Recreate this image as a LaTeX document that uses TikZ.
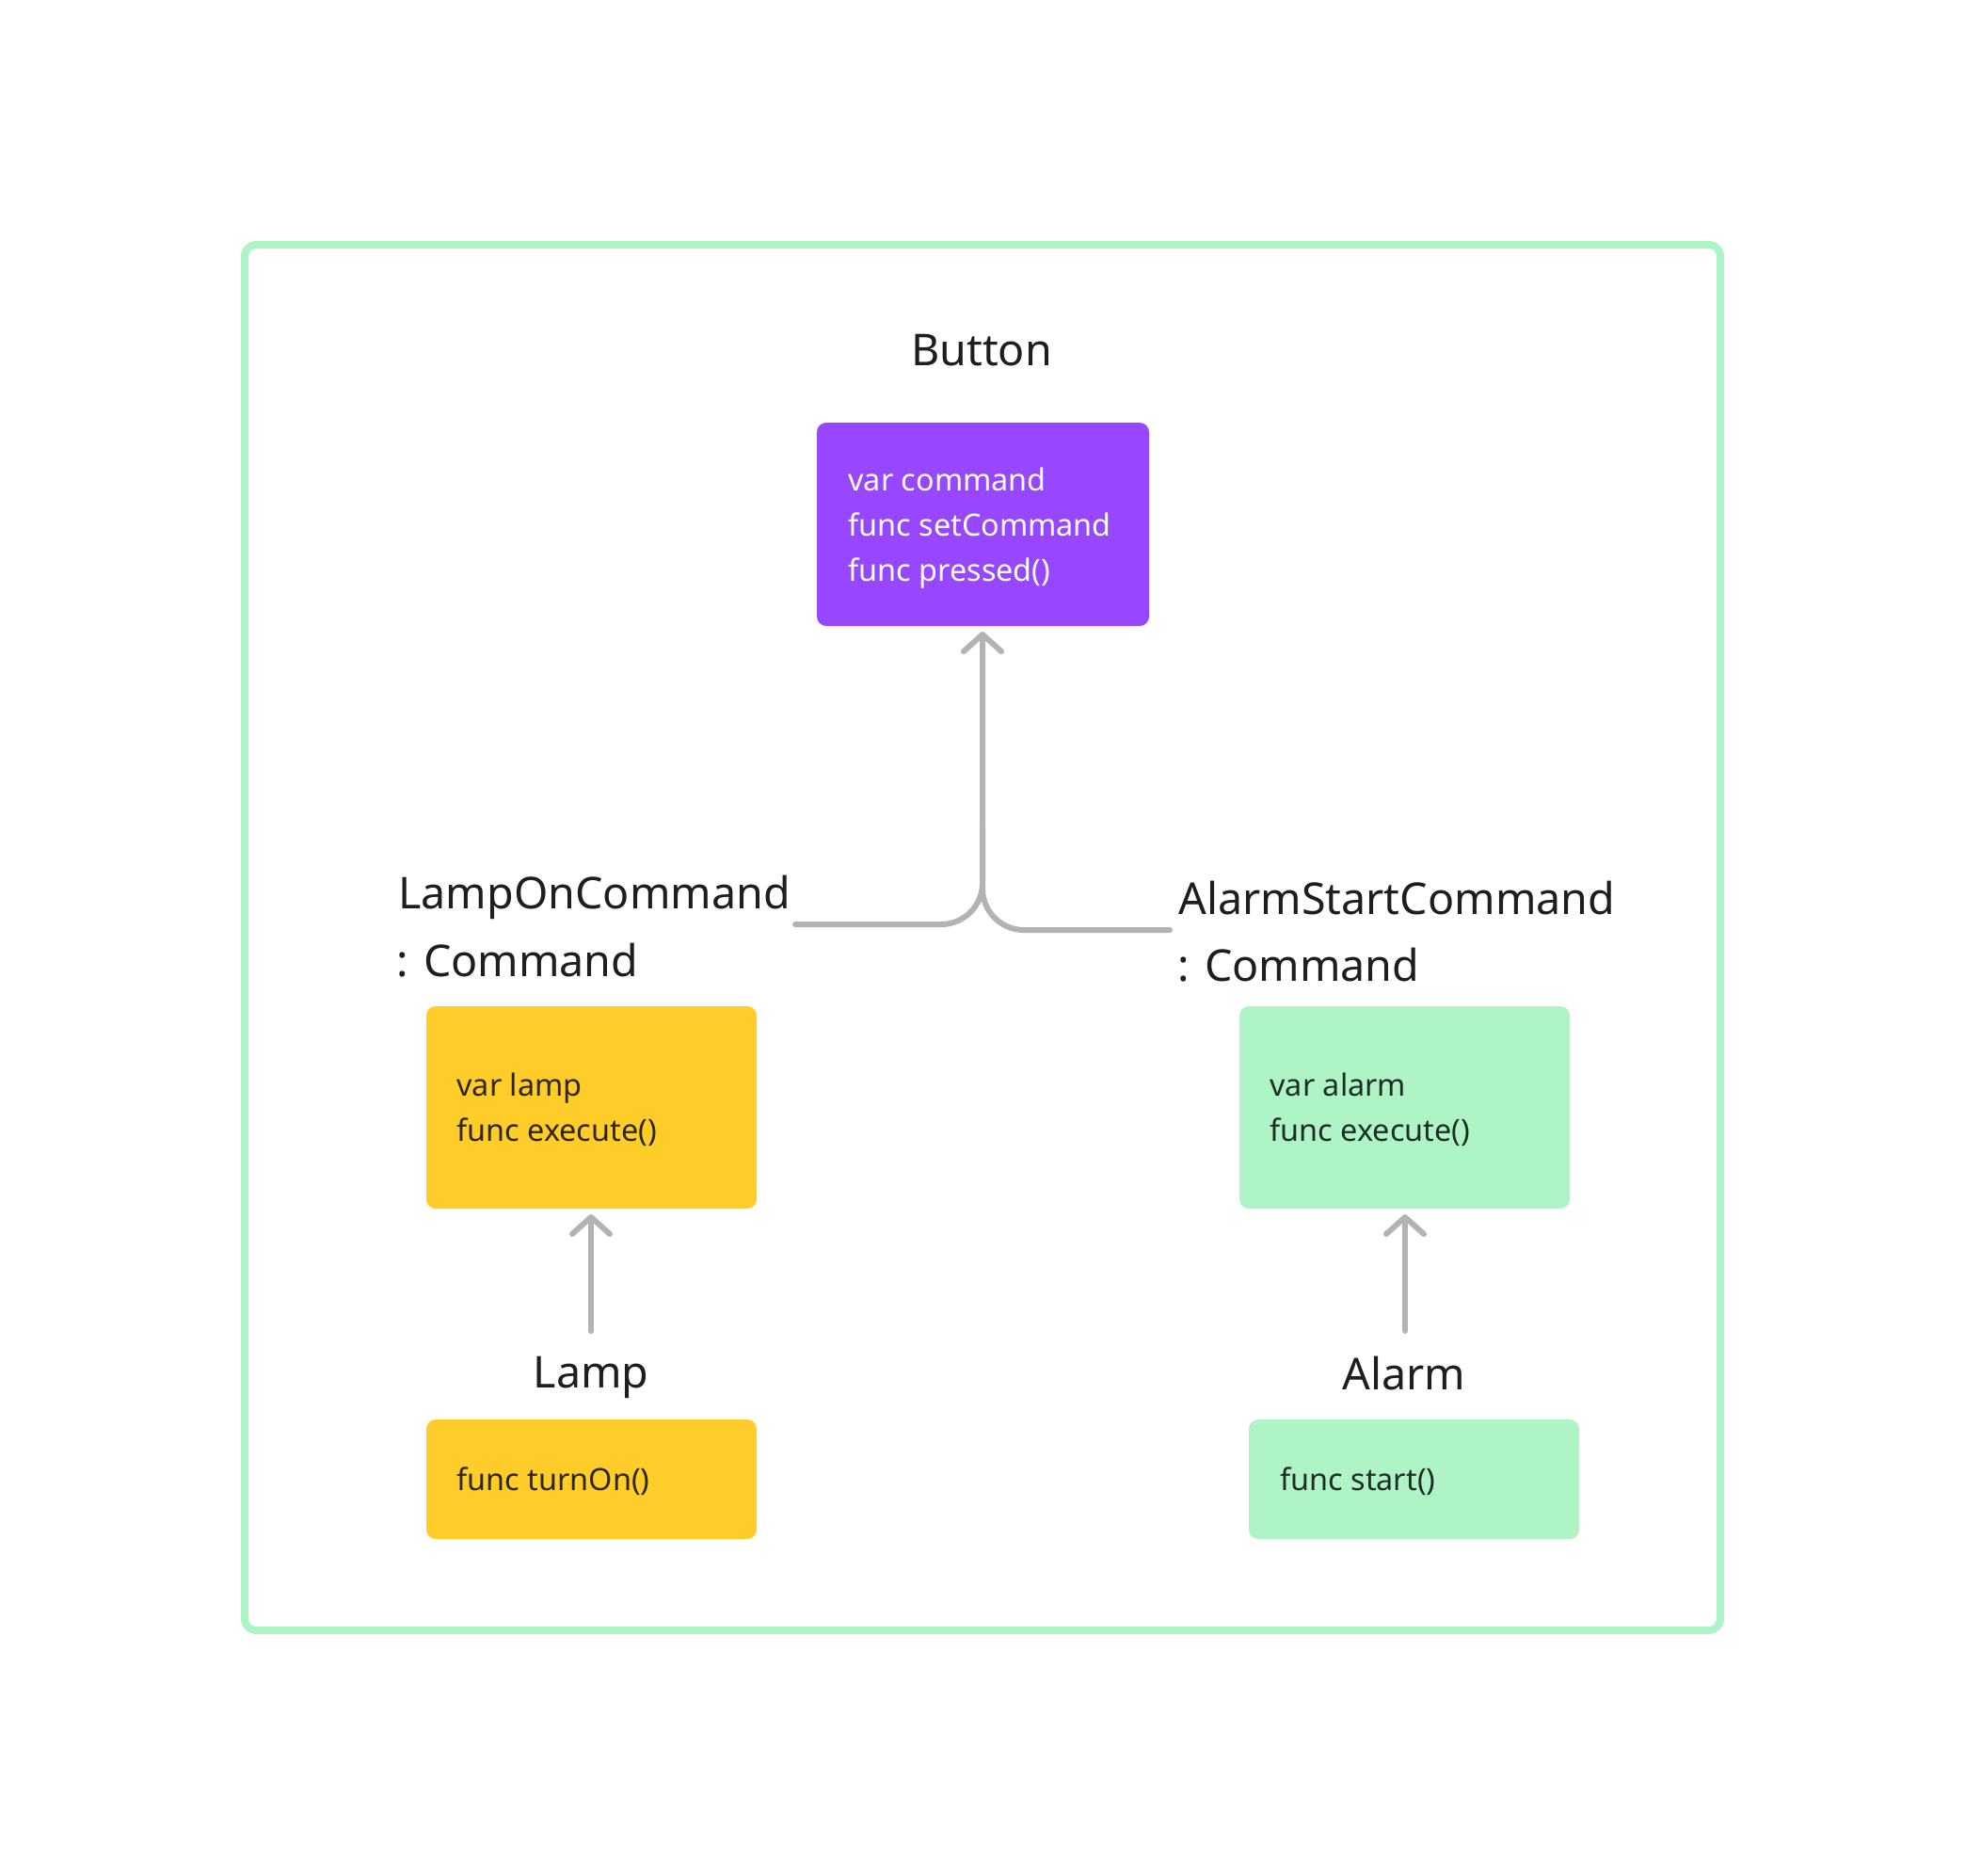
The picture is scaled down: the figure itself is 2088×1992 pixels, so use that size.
\documentclass[tikz,border=0pt]{standalone}
\usepackage{fontspec}
\setmainfont{Noto Sans}
\usetikzlibrary{arrows.meta}
\definecolor{fpurple}{HTML}{9747FF}
\definecolor{fyellow}{HTML}{FFCD29}
\definecolor{fgreen}{HTML}{AFF4C6}
\definecolor{fgrey}{HTML}{B3B3B3}
\definecolor{ftext}{HTML}{1E1E1E}
\definecolor{ytext}{HTML}{2E2604}
\definecolor{gtext}{HTML}{1F2E24}
\tikzset{
  px/.style={x=0.5pt,y=-0.5pt},
  card/.style={rounded corners=5pt, draw=none, inner sep=0pt},
  title/.style={anchor=base west, inner sep=0pt, text=ftext, font=\fontsize{23.3pt}{28pt}\selectfont},
  ctitle/.style={anchor=base, inner sep=0pt, text=ftext, font=\fontsize{23.3pt}{28pt}\selectfont},
  body/.style={anchor=base west, inner sep=0pt, align=left, font=\fontsize{16.2pt}{24pt}\selectfont},
  conn/.style={draw=fgrey, line width=3pt, line cap=round, line join=round,
    -{Straight Barb[length=9pt,width=20pt,line cap=round,line join=round]}},
  frame/.style={draw=fgreen, line width=4pt, rounded corners=6pt}
}
\begin{document}
\begin{tikzpicture}[px]
\useasboundingbox (0,0) rectangle (2088,1992);
\fill[white] (0,0) rectangle (2088,1992);
\draw[frame] (260,260) rectangle (1828,1732);

% Button
\node[ctitle] (buttonlabel) at (1043,388) {Button};
\node[card, fill=fpurple, minimum width=176.5pt, minimum height=108pt] (button) at (1044.5,557) {};
% base anchor of a multi-line node is the baseline of its last line
\node[body, text=white] (buttontext) at (901,617) {var command\\func setCommand\\func pressed()};

% LampOnCommand
\node[title] (lclabel) at (423,965) {LampOnCommand};
\node[title] (lclabel2) at (421,1037) {: Command};
\node[card, fill=fyellow, minimum width=175.5pt, minimum height=107.5pt] (lampcmd) at (628.5,1176.5) {};
\node[body, text=ytext] (lampcmdtext) at (485,1212) {var lamp\\func execute()};

% AlarmStartCommand
\node[title] (aclabel) at (1252,971) {AlarmStartCommand};
\node[title] (aclabel2) at (1251,1042) {: Command};
\node[card, fill=fgreen, minimum width=175.5pt, minimum height=107.5pt] (alarmcmd) at (1492.5,1176.5) {};
\node[body, text=gtext] (alarmcmdtext) at (1349,1212) {var alarm\\func execute()};

% Lamp
\node[ctitle] (lamplabel) at (628,1474) {Lamp};
\node[card, fill=fyellow, minimum width=175.5pt, minimum height=63.5pt] (lamp) at (628.5,1571.5) {};
\node[body, text=ytext] (lamptext) at (485,1583) {func turnOn()};

% Alarm
\node[ctitle] (alarmlabel) at (1492,1476) {Alarm};
\node[card, fill=fgreen, minimum width=175.5pt, minimum height=63.5pt] (alarm) at (1502.5,1571.5) {};
\node[body, text=gtext] (alarmtext) at (1360,1583) {func start()};

% connectors
\coordinate (btip) at (1044,671);
\coordinate (bjoin) at (1044,880);
\coordinate (lstart) at (845,982);
\coordinate (rstart) at (1243,988);
\coordinate (ltip) at (628,1290);
\coordinate (lfoot) at (628,1414);
\coordinate (atip) at (1493,1290);
\coordinate (afoot) at (1493,1414);
\draw[draw=fgrey, line width=3pt, line cap=round, rounded corners=22pt] (rstart) -| (bjoin);
\draw[conn, rounded corners=22pt] (lstart) -| (btip);
\draw[conn] (lfoot) -- (ltip);
\draw[conn] (afoot) -- (atip);
\end{tikzpicture}
\end{document}
